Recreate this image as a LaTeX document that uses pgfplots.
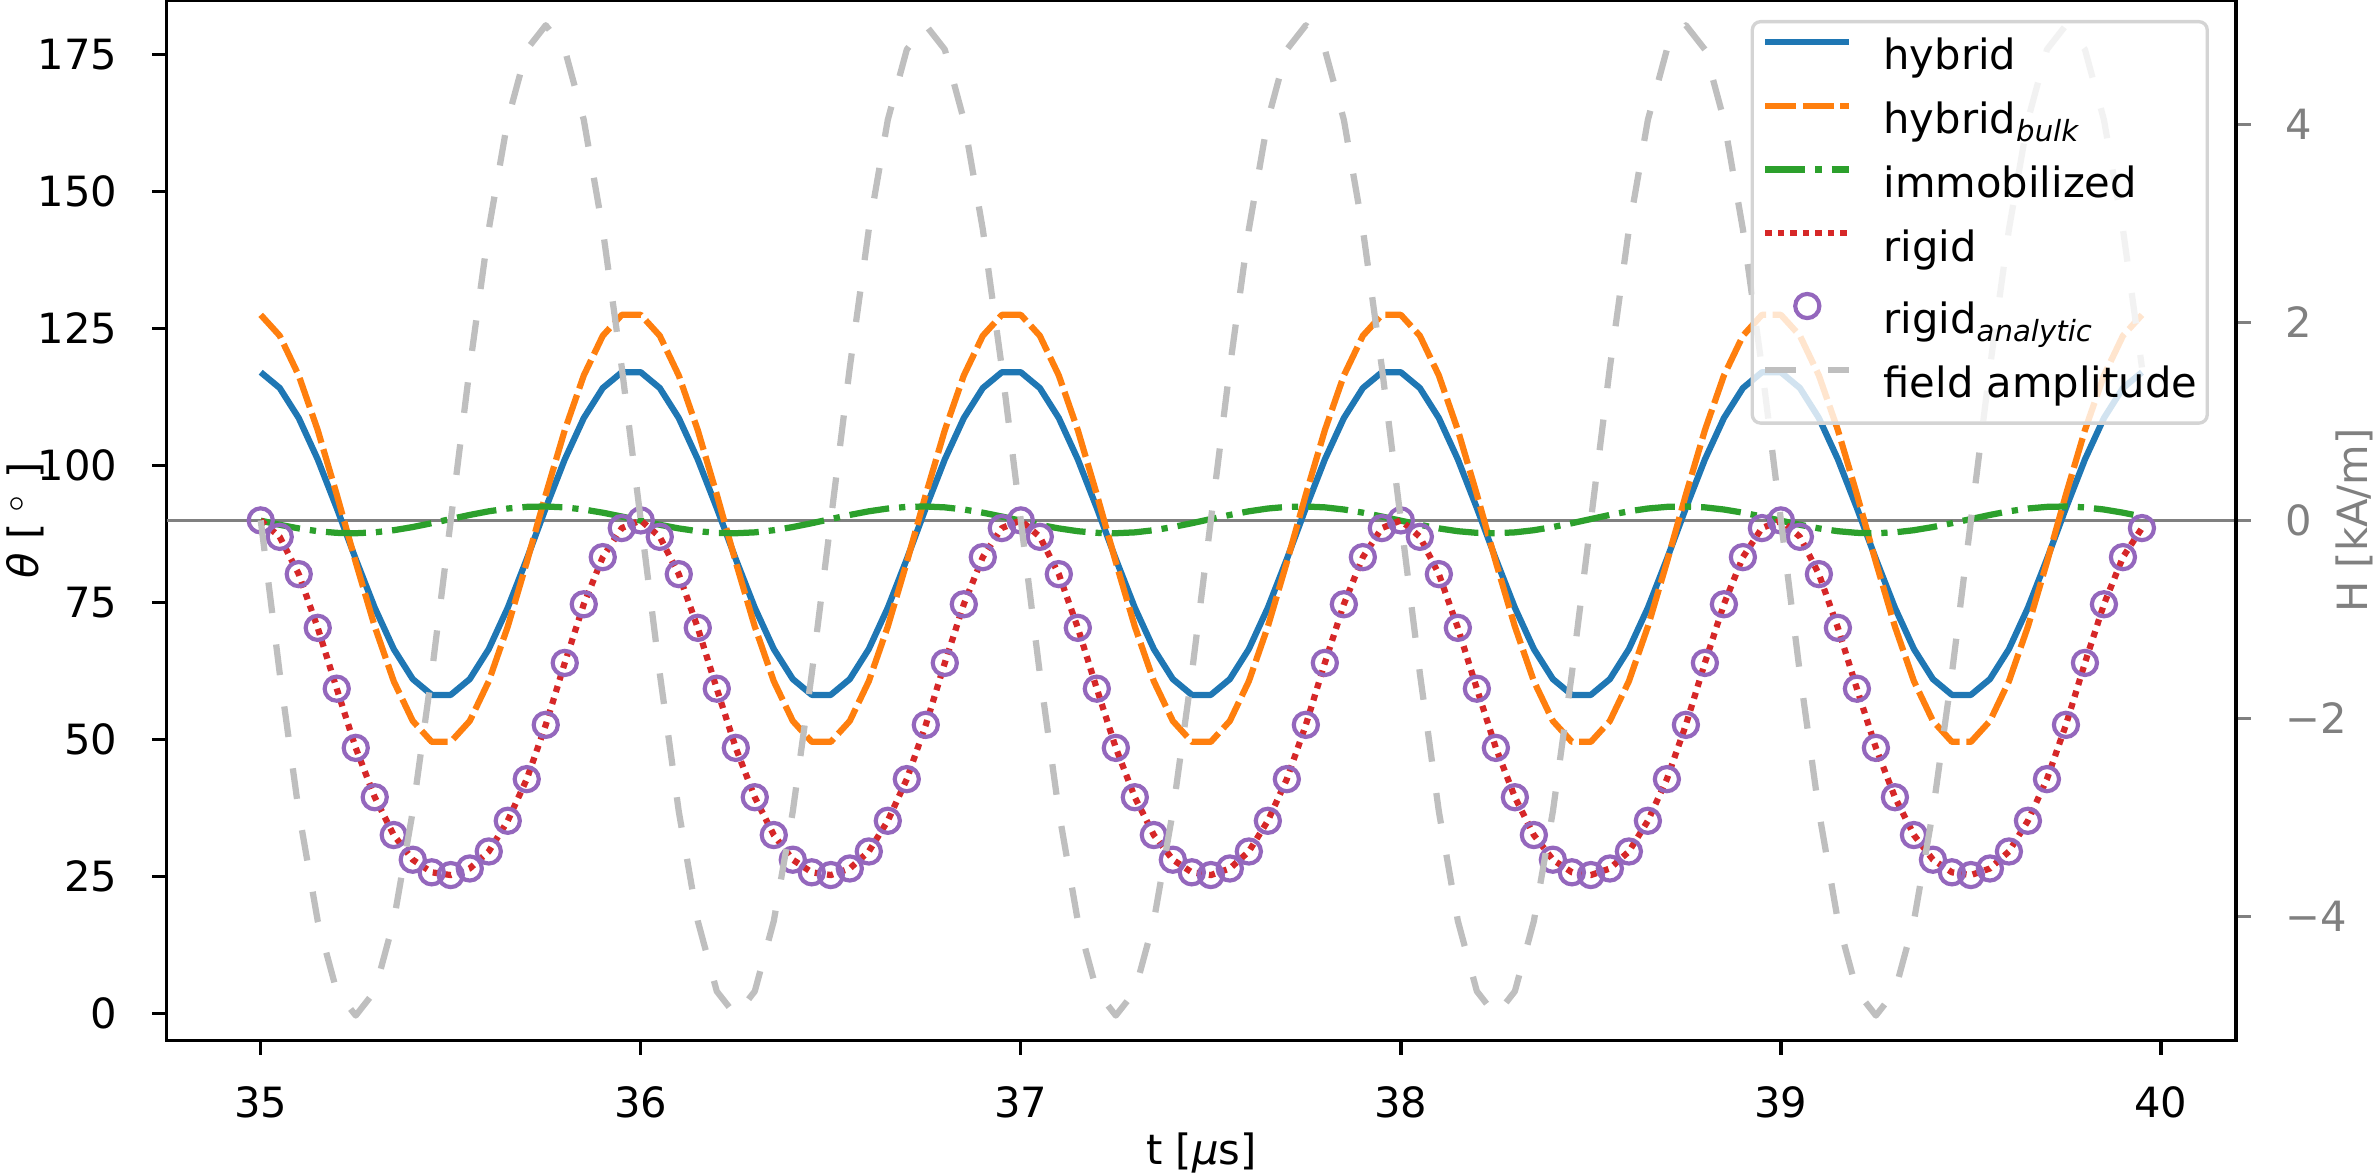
\documentclass[border=0pt]{standalone}
\usepackage{fontspec}
\setmainfont{DejaVu Sans}
\usepackage{pgfplots}
\usepackage{pgfplotstable}
\pgfplotsset{compat=1.18}

\definecolor{cB}{HTML}{1F77B4}
\definecolor{cO}{HTML}{FF7F0E}
\definecolor{cG}{HTML}{2CA02C}
\definecolor{cR}{HTML}{D62728}
\definecolor{cP}{HTML}{9467BD}
\definecolor{cF}{RGB}{191,191,191}
\definecolor{cH}{RGB}{128,128,128}

\pgfplotstableread{
t hyb bulk imm rig H
35.00 117.03 127.50 89.95 90.0 0
35.05 114.15 123.69 89.20 87.0 -1.545
35.10 108.67 116.44 88.54 80.2 -2.939
35.15 101.13 106.46 88.03 70.4 -4.045
35.20 92.26 94.72 87.73 59.3 -4.755
35.25 82.94 82.38 87.66 48.5 -5.000
35.30 74.07 70.64 87.82 39.5 -4.755
35.35 66.53 60.66 88.21 32.6 -4.045
35.40 61.05 53.41 88.79 28.1 -2.939
35.45 58.17 49.60 89.49 25.8 -1.545
35.50 58.17 49.60 90.25 25.3 0
35.55 61.05 53.41 91.00 26.5 1.545
35.60 66.53 60.66 91.66 29.6 2.939
35.65 74.07 70.64 92.17 35.2 4.045
35.70 82.94 82.38 92.47 42.8 4.755
35.75 92.26 94.72 92.54 52.7 5.000
35.80 101.13 106.46 92.38 64.0 4.755
35.85 108.67 116.44 91.99 74.7 4.045
35.90 114.15 123.69 91.41 83.3 2.939
35.95 117.03 127.50 90.71 88.6 1.545
36.00 117.03 127.50 89.95 90.0 0
36.05 114.15 123.69 89.20 87.0 -1.545
36.10 108.67 116.44 88.54 80.2 -2.939
36.15 101.13 106.46 88.03 70.4 -4.045
36.20 92.26 94.72 87.73 59.3 -4.755
36.25 82.94 82.38 87.66 48.5 -5.000
36.30 74.07 70.64 87.82 39.5 -4.755
36.35 66.53 60.66 88.21 32.6 -4.045
36.40 61.05 53.41 88.79 28.1 -2.939
36.45 58.17 49.60 89.49 25.8 -1.545
36.50 58.17 49.60 90.25 25.3 0
36.55 61.05 53.41 91.00 26.5 1.545
36.60 66.53 60.66 91.66 29.6 2.939
36.65 74.07 70.64 92.17 35.2 4.045
36.70 82.94 82.38 92.47 42.8 4.755
36.75 92.26 94.72 92.54 52.7 5.000
36.80 101.13 106.46 92.38 64.0 4.755
36.85 108.67 116.44 91.99 74.7 4.045
36.90 114.15 123.69 91.41 83.3 2.939
36.95 117.03 127.50 90.71 88.6 1.545
37.00 117.03 127.50 89.95 90.0 0
37.05 114.15 123.69 89.20 87.0 -1.545
37.10 108.67 116.44 88.54 80.2 -2.939
37.15 101.13 106.46 88.03 70.4 -4.045
37.20 92.26 94.72 87.73 59.3 -4.755
37.25 82.94 82.38 87.66 48.5 -5.000
37.30 74.07 70.64 87.82 39.5 -4.755
37.35 66.53 60.66 88.21 32.6 -4.045
37.40 61.05 53.41 88.79 28.1 -2.939
37.45 58.17 49.60 89.49 25.8 -1.545
37.50 58.17 49.60 90.25 25.3 0
37.55 61.05 53.41 91.00 26.5 1.545
37.60 66.53 60.66 91.66 29.6 2.939
37.65 74.07 70.64 92.17 35.2 4.045
37.70 82.94 82.38 92.47 42.8 4.755
37.75 92.26 94.72 92.54 52.7 5.000
37.80 101.13 106.46 92.38 64.0 4.755
37.85 108.67 116.44 91.99 74.7 4.045
37.90 114.15 123.69 91.41 83.3 2.939
37.95 117.03 127.50 90.71 88.6 1.545
38.00 117.03 127.50 89.95 90.0 0
38.05 114.15 123.69 89.20 87.0 -1.545
38.10 108.67 116.44 88.54 80.2 -2.939
38.15 101.13 106.46 88.03 70.4 -4.045
38.20 92.26 94.72 87.73 59.3 -4.755
38.25 82.94 82.38 87.66 48.5 -5.000
38.30 74.07 70.64 87.82 39.5 -4.755
38.35 66.53 60.66 88.21 32.6 -4.045
38.40 61.05 53.41 88.79 28.1 -2.939
38.45 58.17 49.60 89.49 25.8 -1.545
38.50 58.17 49.60 90.25 25.3 0
38.55 61.05 53.41 91.00 26.5 1.545
38.60 66.53 60.66 91.66 29.6 2.939
38.65 74.07 70.64 92.17 35.2 4.045
38.70 82.94 82.38 92.47 42.8 4.755
38.75 92.26 94.72 92.54 52.7 5.000
38.80 101.13 106.46 92.38 64.0 4.755
38.85 108.67 116.44 91.99 74.7 4.045
38.90 114.15 123.69 91.41 83.3 2.939
38.95 117.03 127.50 90.71 88.6 1.545
39.00 117.03 127.50 89.95 90.0 0
39.05 114.15 123.69 89.20 87.0 -1.545
39.10 108.67 116.44 88.54 80.2 -2.939
39.15 101.13 106.46 88.03 70.4 -4.045
39.20 92.26 94.72 87.73 59.3 -4.755
39.25 82.94 82.38 87.66 48.5 -5.000
39.30 74.07 70.64 87.82 39.5 -4.755
39.35 66.53 60.66 88.21 32.6 -4.045
39.40 61.05 53.41 88.79 28.1 -2.939
39.45 58.17 49.60 89.49 25.8 -1.545
39.50 58.17 49.60 90.25 25.3 0
39.55 61.05 53.41 91.00 26.5 1.545
39.60 66.53 60.66 91.66 29.6 2.939
39.65 74.07 70.64 92.17 35.2 4.045
39.70 82.94 82.38 92.47 42.8 4.755
39.75 92.26 94.72 92.54 52.7 5.000
39.80 101.13 106.46 92.38 64.0 4.755
39.85 108.67 116.44 91.99 74.7 4.045
39.90 114.15 123.69 91.41 83.3 2.939
39.95 117.03 127.50 90.71 88.6 1.545
}\datatab

\tikzset{
  hybsty/.style={cB, line width=1.5pt, line join=round},
  bulksty/.style={cO, line width=1.5pt, line join=round, dash pattern=on 7.4pt off 1.6pt},
  immsty/.style={cG, line width=1.5pt, line join=round, dash pattern=on 9.6pt off 2.4pt on 1.5pt off 2.4pt},
  rigsty/.style={cR, line width=1.5pt, line join=round, dash pattern=on 1.5pt off 1.5pt},
  fieldsty/.style={cF, line width=1.5pt, line join=round, dash pattern=on 7.4pt off 7.6pt},
}
\pgfplotsset{
  mylineimg/.style={legend image code/.code={\draw[##1] (0pt,4pt)--(20.1pt,4pt); \path (0pt,0pt) (27.6pt,0pt);}},
  mymarkimg/.style={legend image code/.code={\draw[##1] plot coordinates {(10.05pt,4pt)}; \path (0pt,0pt) (27.6pt,0pt);}},
  commonax/.style={
    at={(0,0)}, anchor=south west, scale only axis,
    width=496.63pt, height=249.55pt,
    xmin=34.7525, xmax=40.1975,
    tick align=outside, major tick length=3.5pt,
    axis line style={line width=0.8pt, black},
    /pgf/number format/assume math mode=true,
    ticklabel style={font=\fontsize{10}{12}\selectfont},
    label style={font=\fontsize{10}{12}\selectfont},
    clip=true,
  },
}

\begin{document}
\begin{tikzpicture}
\begin{axis}[commonax, name=ax1,
  ymin=-4.85, ymax=184.85,
  xtick={35,36,37,38,39,40}, ytick={0,25,50,75,100,125,150,175},
  tick pos=left,
  every tick/.style={black, line width=0.8pt},
  xticklabel style={anchor=north, inner sep=0pt, yshift=-7.3pt},
  yticklabel style={anchor=east, inner sep=0pt, xshift=-8.2pt},
  xlabel={t [\textit{μ}s]},
  ylabel={\textit{θ} [\hspace{2.5pt}$^\circ$\hspace{3.5pt}]},
  xlabel style={at={(axis description cs:0.5,-0.1082)}, anchor=center},
  ylabel style={at={(axis description cs:-0.0681,0.5)}, anchor=center},
]
\addplot[cH, line width=0.8pt, forget plot] coordinates {(34.7525,90) (40.1975,90)};
\addplot[hybsty] table[x=t, y=hyb] {\datatab};
\addplot[bulksty] table[x=t, y=bulk] {\datatab};
\addplot[immsty] table[x=t, y=imm] {\datatab};
\addplot[rigsty] table[x=t, y=rig] {\datatab};
\addplot[cP, only marks, mark=o, mark size=2.9pt, mark options={line width=1pt, solid}] table[x=t, y=rig] {\datatab};
\end{axis}
\begin{axis}[commonax,
  ymin=-5.25, ymax=5.25,
  axis x line=none, axis y line*=right,
  ytick={-4,-2,0,2,4}, yticklabels={−4,−2,0,2,4},
  every tick/.style={cH, line width=0.8pt},
  yticklabel style={anchor=west, inner sep=0pt, xshift=8.2pt, text=cH},
  ylabel={H [kA/m]},
  ylabel style={at={(axis description cs:1.0573,0.5)}, anchor=center, text=cH, rotate=0},
  legend cell align=left,
  legend style={
    at={(1,1)}, anchor=north east, xshift=-6.5pt, yshift=-4.68pt,
    draw=black!17, line width=0.8pt, fill=white, fill opacity=0.8, text opacity=1, draw opacity=1,
    rounded corners=2pt, inner xsep=2.4pt, inner ysep=4.15pt,
    row sep=5.9pt,
    nodes={inner sep=0pt, text height=7.3pt, text depth=2.0pt, font=\fontsize{10}{12}\selectfont},
  },
]
\addlegendimage{hybsty, mylineimg}
\addlegendentry{hybrid}
\addlegendimage{bulksty, mylineimg}
\addlegendentry{hybrid\textsubscript{\textit{bulk}}}
\addlegendimage{immsty, mylineimg}
\addlegendentry{immobilized}
\addlegendimage{rigsty, mylineimg}
\addlegendentry{rigid}
\addlegendimage{cP, mark=o, mark size=2.9pt, mark options={line width=1pt, solid}, mymarkimg}
\addlegendentry{rigid\textsubscript{\textit{analytic}}}
\addplot[fieldsty, mylineimg] table[x=t, y=H] {\datatab};
\addlegendentry{field amplitude}
\end{axis}
\pgfresetboundingbox
\useasboundingbox ([shift={(-40.0pt,-32.09pt)}]ax1.south west) rectangle ([shift={(33.12pt,0.12pt)}]ax1.north east);
\end{tikzpicture}
\end{document}
